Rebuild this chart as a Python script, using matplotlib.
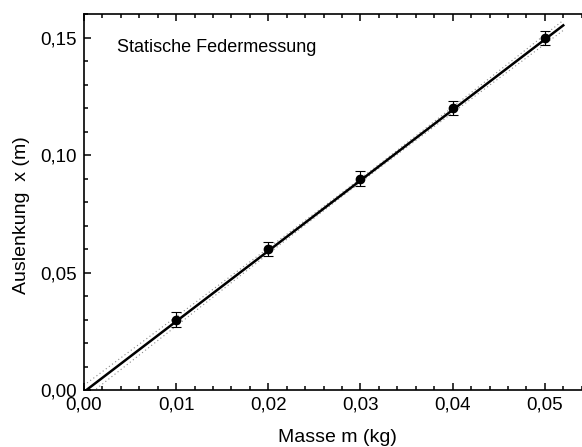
import numpy as np
import matplotlib.pyplot as plt
from matplotlib.ticker import MultipleLocator, FuncFormatter

plt.rcParams.update({
    "font.family": ["Liberation Sans", "DejaVu Sans"],
    "font.size": 13.5,
    "axes.linewidth": 1.2,
})

# Messwerte
masse = [0.01, 0.02, 0.03, 0.04, 0.05]
auslenkung = [0.03, 0.06, 0.09, 0.12, 0.15]
fehler = [0.003, 0.003, 0.003, 0.003, 0.003]

fig = plt.figure(figsize=(5.82, 4.47), dpi=100)
ax = fig.add_axes([0.1443, 0.1275, 0.871, 0.841])

# Lineare Anpassung + Konfidenzband
k, d = np.polyfit(masse, auslenkung, 1)
xf = np.linspace(0.0, 0.052, 200)
yf = k * xf + d - 0.0008
hw = np.sqrt(0.0008**2 + (0.09 * (xf - 0.03))**2)
ax.plot(xf, yf, color="black", lw=1.8, zorder=3)
ax.plot(xf, yf + hw, color="#888888", lw=0.8, ls=(0, (1, 2.5)), zorder=2)
ax.plot(xf, yf - hw, color="#888888", lw=0.8, ls=(0, (1, 2.5)), zorder=2)

ax.errorbar(masse, auslenkung, yerr=fehler, fmt="o", color="black",
            ms=6, elinewidth=0.8, capsize=3.5, capthick=0.8, zorder=4)

ax.set_xlim(0, 0.055)
ax.set_ylim(0, 0.16)
ax.xaxis.set_major_locator(MultipleLocator(0.01))
ax.xaxis.set_minor_locator(MultipleLocator(0.002))
ax.yaxis.set_major_locator(MultipleLocator(0.05))
ax.yaxis.set_minor_locator(MultipleLocator(0.01))
komma = FuncFormatter(lambda v, p: f"{v:.2f}".replace(".", ","))
ax.xaxis.set_major_formatter(komma)
ax.yaxis.set_major_formatter(komma)
ax.tick_params(which="both", direction="in", top=True, right=False, width=1.1)
ax.tick_params(which="major", length=5, pad=5)
ax.tick_params(which="minor", length=3)
ax.spines["right"].set_visible(False)

ax.set_xlabel("Masse m (kg)", fontsize=14, labelpad=11)
ax.set_ylabel("Auslenkung  x (m)", fontsize=14, va="center")
ax.yaxis.set_label_coords(-0.124, 0.465)
ax.text(0.065, 0.91, "Statische Federmessung", transform=ax.transAxes,
        fontsize=13, va="center")

fig.savefig("out.png", dpi=100)
